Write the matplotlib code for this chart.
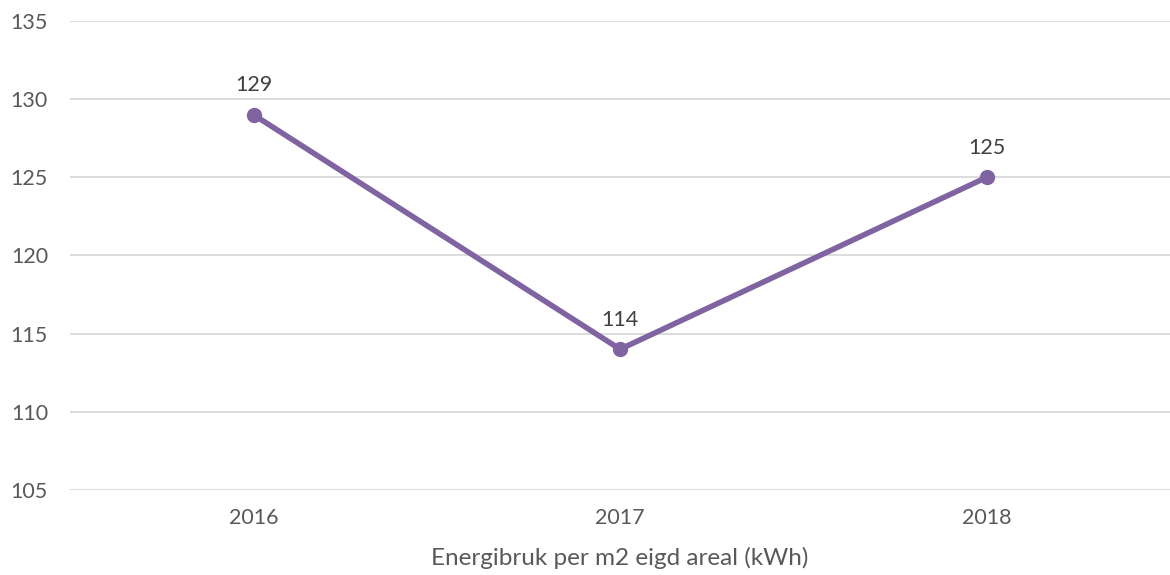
import matplotlib.pyplot as plt

years = ['2016', '2017', '2018']
values = [129, 114, 125]
yticks = [105, 110, 115, 120, 125, 130, 135]

plt.rcParams['font.family'] = ['Lato', 'DejaVu Sans']
text_color = '#595959'
line_color = '#8064A2'

fig = plt.figure(figsize=(11.7, 5.75), dpi=100)
ax = fig.add_axes([0.06, 0.148, 0.94, 0.8155])

x = range(len(years))
ax.plot(x, values, color=line_color, linewidth=4, marker='o', markersize=10,
        solid_capstyle='round', zorder=3)
for xi, v in zip(x, values):
    ax.annotate(str(v), (xi, v), xytext=(0, 14), textcoords='offset points',
                ha='center', va='bottom', fontsize=15.5, color='#404040')

ax.set_xlim(-0.5, 2.5)
ax.set_ylim(105, 135)
ax.set_yticks(yticks)
ax.set_xticks(list(x))
ax.set_xticklabels(years)
ax.grid(axis='y', color='#D9D9D9', linewidth=1.3)
ax.set_axisbelow(True)
for s in ax.spines.values():
    s.set_visible(False)
ax.tick_params(length=0, labelsize=15.5, colors=text_color)
ax.tick_params(axis='x', pad=13)
ax.tick_params(axis='y', pad=16)
ax.set_xlabel('Energibruk per m2 eigd areal (kWh)', fontsize=17.5, color=text_color, labelpad=14)

fig.savefig('out.png', dpi=100)
